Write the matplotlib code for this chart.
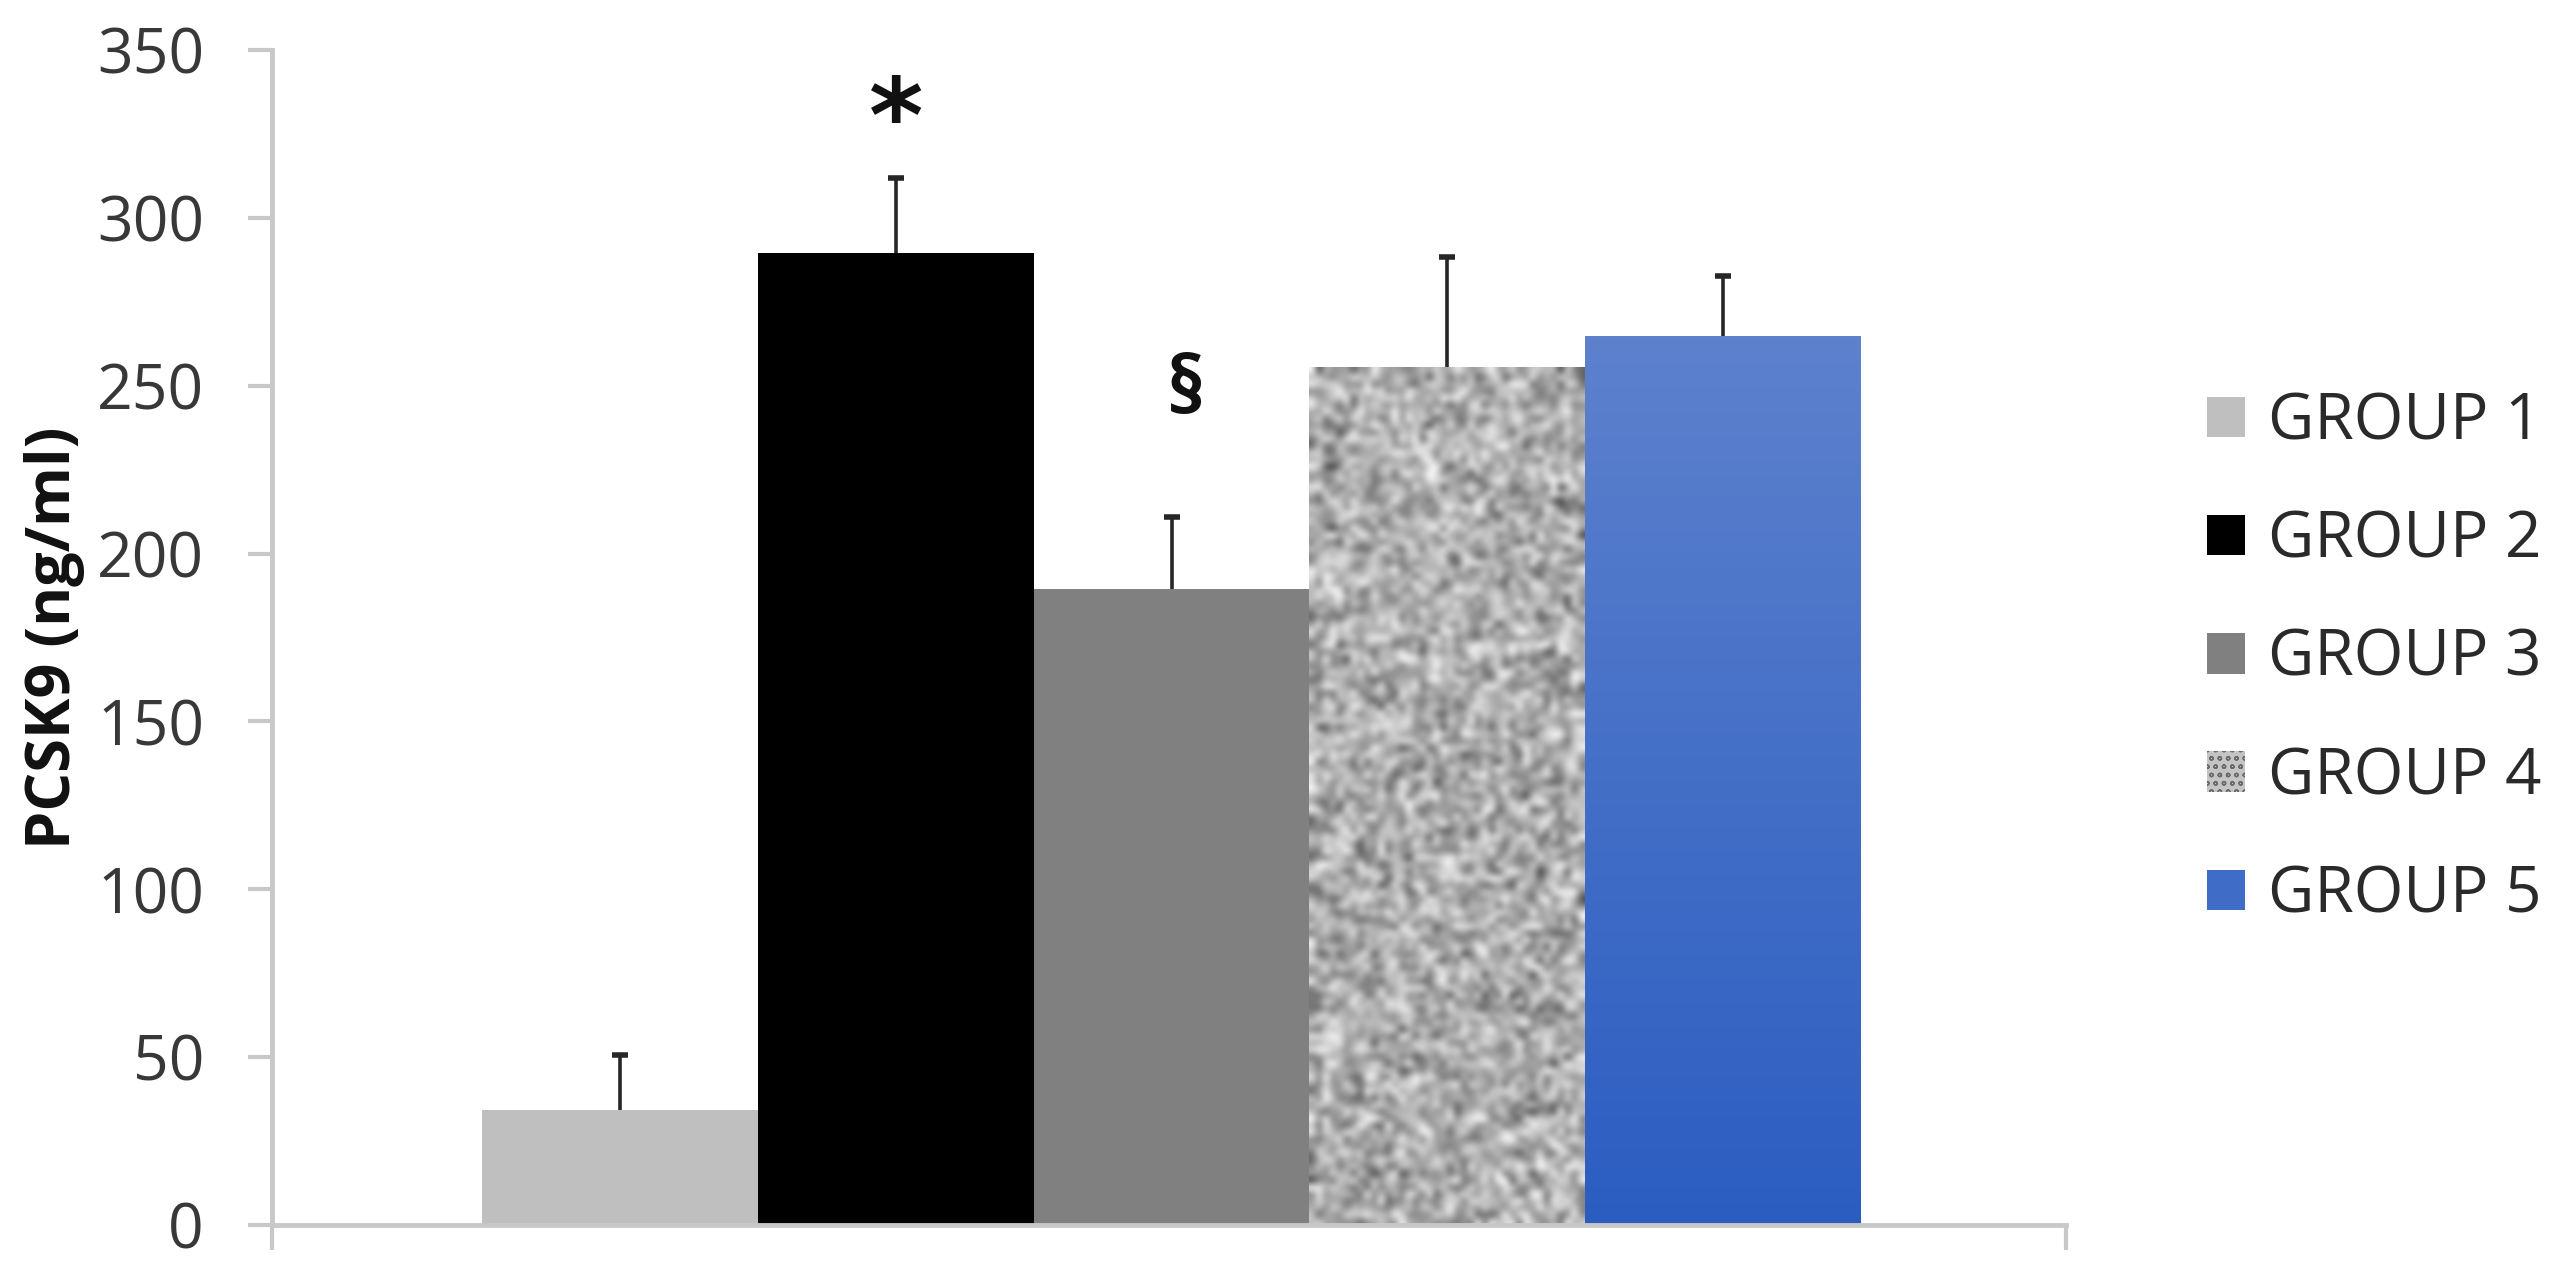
import numpy as np
import matplotlib
matplotlib.use("Agg")
import matplotlib.pyplot as plt
from matplotlib.colors import LinearSegmentedColormap

# data
groups = ["GROUP 1", "GROUP 2", "GROUP 3", "GROUP 4", "GROUP 5"]
pcsk9_mean = [34.3, 289.5, 189.5, 255.5, 264.8]
pcsk9_err = [16.3, 22.5, 21.5, 32.8, 17.9]
marks = [(1, 328, "*"), (2.05, 248, "§")]

bar_colors = ["#bfbfbf", "#000000", "#808080", "#c4c4c4", "#3f6cc7"]

plt.rcParams["font.family"] = ["Open Sans", "DejaVu Sans"]

fig = plt.figure(figsize=(25.77, 12.85), dpi=100)
ax = fig.add_axes([272 / 2577, 1 - 1225 / 1285, (2067 - 272) / 2577, (1225 - 50) / 1285])

x = np.arange(len(groups))
bars = ax.bar(x, pcsk9_mean, width=1.0, color=bar_colors, linewidth=0, zorder=2)
for b, name in zip(bars, groups):
    b.set_label(name)

# granite-like fill for group 4 (texture only, not data)
b4 = bars[3]
b4.set_hatch("oo")
b4.set_edgecolor("#6a6a6a")
rng = np.random.default_rng(3)
tex = np.clip(rng.normal(0.68, 0.17, size=(125, 40)), 0.2, 1.0)
im = ax.imshow(tex, cmap="gray", vmin=0, vmax=1, interpolation="bicubic", aspect="auto",
               extent=(b4.get_x(), b4.get_x() + b4.get_width(), 0, b4.get_height()), zorder=2.1)
im.set_clip_path(b4)

# vertical gradient for group 5
b5 = bars[4]
grad_cmap = LinearSegmentedColormap.from_list("g5", ["#2b5dc1", "#5d81cd"])
grad = np.linspace(0, 1, 256).reshape(-1, 1)
im5 = ax.imshow(grad, cmap=grad_cmap, origin="lower", aspect="auto",
                extent=(b5.get_x(), b5.get_x() + b5.get_width(), 0, b5.get_height()), zorder=2.1)
im5.set_clip_path(b5)

eb = ax.errorbar(x, pcsk9_mean, yerr=[np.zeros(len(x)), pcsk9_err], fmt="none",
                 ecolor="#262626", elinewidth=2.6, capsize=6, capthick=4, zorder=3)
eb[1][0].set_visible(False)  # only the upper cap

for xi, yi, s in marks:
    if s == "*":
        ax.text(xi, yi, s, ha="center", va="center", fontsize=75, fontweight="bold",
                family="DejaVu Sans", color="#111111")
    else:
        ax.text(xi, yi, s, ha="center", va="center", fontsize=56, fontweight="bold", color="#111111")

xmin, xmax = -1.261, 5.243
ax.set_xlim(xmin, xmax)
ax.set_ylim(0, 350)
ax.set_yticks(np.arange(0, 351, 50))
ax.set_xticks([xmin, xmax])
ax.set_xticklabels([])

for side in ["top", "right"]:
    ax.spines[side].set_visible(False)
for side in ["left", "bottom"]:
    ax.spines[side].set_color("#c8c8c8")
    ax.spines[side].set_linewidth(3.5)
ax.tick_params(axis="y", direction="out", length=17, width=3, color="#c8c8c8",
               labelsize=45, labelcolor="#383838", pad=32)
ax.tick_params(axis="x", direction="out", length=18, width=3, color="#c8c8c8")

ax.set_ylabel("PCSK9 (ng/ml)", fontsize=44, fontweight="bold", color="#111111")
ax.yaxis.set_label_coords(-0.121, 0.5)
ax.yaxis.label.set_verticalalignment("center")

fig.legend(handles=list(bars), labels=groups, loc="center left",
           bbox_to_anchor=(2208 / 2577, 1 - 659 / 1285), frameon=False, fontsize=46,
           handlelength=0.6, handleheight=0.6, handletextpad=0.35, labelspacing=0.85,
           borderpad=0, borderaxespad=0, labelcolor="#2a2a2a")

fig.savefig("out.png", dpi=100)
